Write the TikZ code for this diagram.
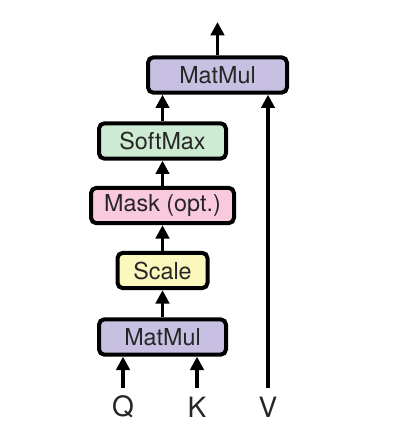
\documentclass[tikz,border=0pt]{standalone}
\usepackage{fontspec}
\setmainfont{TeX Gyre Heros}
\usetikzlibrary{arrows.meta}

\definecolor{mmcol}{RGB}{200,192,226}
\definecolor{smcol}{RGB}{204,235,210}
\definecolor{mkcol}{RGB}{249,201,222}
\definecolor{sccol}{RGB}{251,248,190}

\tikzset{
  box/.style={draw=black, line width=3pt, rounded corners=4pt,
    minimum height=26.5pt, inner sep=0pt, text=black!85,
    font=\fontsize{17.5}{17.5}\selectfont},
  arr/.style={line width=2.6pt, -{Triangle[length=10pt,width=10pt]}},
  lbl/.style={font=\fontsize{21}{21}\selectfont, text=black!85}
}

\begin{document}
\begin{tikzpicture}[x=0.75pt,y=-0.75pt]
\useasboundingbox (0,0) rectangle (411,445);

%% boxes
\node[box, fill=mmcol, minimum width=104.25pt] (mm2) at (217.5,75) {MatMul};
\node[box, fill=smcol, minimum width=95.25pt] (soft) at (162.5,141) {SoftMax};
\node[box, fill=mkcol, minimum width=107.25pt] (mask) at (162.5,205.5) {Mask (opt.)};
\node[box, fill=sccol, minimum width=67.5pt] (scale) at (162.5,270.5) {Scale};
\node[box, fill=mmcol, minimum width=95.25pt] (mm1) at (162.5,337) {MatMul};

%% inputs
\node[lbl] (q) at (123,407) {Q};
\node[lbl] (k) at (197,407) {K};
\node[lbl] (v) at (268,407) {V};
\coordinate (qin) at (123,388);
\coordinate (kin) at (197,388);
\coordinate (vin) at (268,388);
\coordinate (out) at (217.5,22);

%% arrows
\draw[arr] (qin) -- (qin |- mm1.south);
\draw[arr] (kin) -- (kin |- mm1.south);
\draw[arr] (vin) -- (vin |- mm2.south);
\draw[arr] (mm1) -- (scale);
\draw[arr] (scale) -- (mask);
\draw[arr] (mask) -- (soft);
\draw[arr] (soft.north) -- (soft.north |- mm2.south);
\draw[arr] (mm2) -- (out);

\end{tikzpicture}
\end{document}
